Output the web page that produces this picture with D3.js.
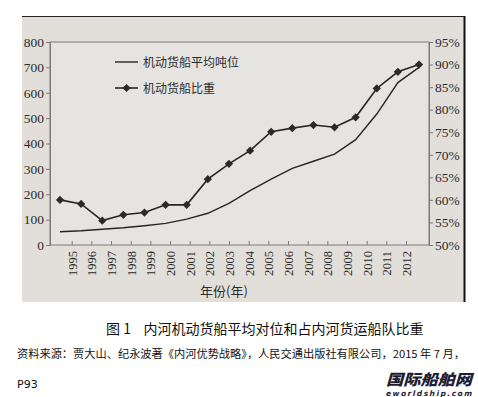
<!DOCTYPE html>
<html lang="zh">
<head>
<meta charset="UTF-8">
<title>内河机动货船平均吨位和占内河货运船队比重</title>
<script src="https://d3js.org/d3.v7.min.js"></script>
<style>
  body { margin: 0; background: #fff; }
  svg { display: block; }
  svg .axis-serif text { font-family: 'Liberation Serif', 'DejaVu Serif', serif; }
</style>
</head>
<body>
<div id="chart"></div>
<script>
// data
const years = ["1995","1996","1997","1998","1999","2000","2001","2002","2003",
               "2004","2005","2006","2007","2008","2009","2010","2011","2012"];
const avgTonnage = [52, 56, 62, 68, 76, 85, 102, 125, 164,
                    214, 260, 302, 330, 358, 415, 516, 640, 700];
const sharePct = [60.0, 59.1, 55.4, 56.7, 57.2, 58.9, 58.9, 64.6, 68.0,
                  70.9, 75.1, 75.9, 76.6, 76.1, 78.3, 84.7, 88.4, 90.0];
const leftTicks = [0, 100, 200, 300, 400, 500, 600, 700, 800];
const rightTicks = [50, 55, 60, 65, 70, 75, 80, 85, 90, 95];
const seriesNames = ["机动货船平均吨位", "机动货船比重"];

const W = 478, H = 397;
const plot = { left: 50, right: 429, top: 42, bottom: 245 };
const CJK = "'Noto Sans CJK SC', sans-serif";

const svg = d3.select("#chart").append("svg")
  .attr("width", W).attr("height", H);

// photographed page
svg.append("rect").attr("x", 22).attr("y", 16).attr("width", 442).attr("height", 286)
  .attr("fill", "#e2dfda");
svg.append("line").attr("x1", 22).attr("x2", 465).attr("y1", 16.5).attr("y2", 16.5)
  .attr("stroke", "#222").attr("stroke-width", 1);
svg.append("line").attr("x1", 464.5).attr("x2", 464.5).attr("y1", 16).attr("y2", 302)
  .attr("stroke", "#111").attr("stroke-width", 2);

// plot frame
svg.append("rect")
  .attr("x", plot.left).attr("y", plot.top)
  .attr("width", plot.right - plot.left).attr("height", plot.bottom - plot.top)
  .attr("fill", "#e6e4e0").attr("stroke", "#7a7a7a").attr("stroke-width", 1);

// scales (the printed series sit slightly wider than the tick labels)
const xData = d3.scalePoint().domain(years).range([60, 419]);
const xLabels = d3.scalePoint().domain(years).range([71.7, 406]);
const yLeft = d3.scaleLinear().domain([0, 800]).range([plot.bottom, plot.top]);
const yRight = d3.scaleLinear().domain([50, 95]).range([plot.bottom, plot.top]);

// left axis
const gl = svg.append("g").attr("class", "axis-serif")
  .attr("transform", `translate(${plot.left},0)`)
  .call(d3.axisLeft(yLeft).tickValues(leftTicks).tickSize(4).tickPadding(2))
  .attr("font-size", 13.5);
gl.select(".domain").attr("stroke", "#7a7a7a");
gl.selectAll(".tick line").attr("stroke", "#7a7a7a");
gl.selectAll("text").attr("fill", "#2b2b2b");

// right axis
const gr = svg.append("g").attr("class", "axis-serif")
  .attr("transform", `translate(${plot.right},0)`)
  .call(d3.axisRight(yRight).tickValues(rightTicks).tickSize(4).tickPadding(2)
    .tickFormat(d => d + "%"))
  .attr("font-size", 13.5);
gr.select(".domain").attr("stroke", "#7a7a7a");
gr.selectAll(".tick line").attr("stroke", "#7a7a7a");
gr.selectAll("text").attr("fill", "#2b2b2b");

// x axis: ticks pointing into the plot, labels rotated
const gx = svg.append("g").attr("class", "axis-serif")
  .attr("transform", `translate(0,${plot.bottom})`)
  .call(d3.axisBottom(xLabels).tickSize(-4).tickSizeOuter(0))
  .attr("font-size", 12.5);
gx.select(".domain").remove();
gx.selectAll(".tick line").attr("stroke", "#7a7a7a");
gx.selectAll("text")
  .attr("fill", "#2b2b2b")
  .attr("transform", "rotate(-90)")
  .attr("x", -6).attr("y", 0).attr("dy", "0.35em")
  .style("text-anchor", "end");

svg.append("text").style("font-family", CJK).attr("fill", "#2b2b2b")
  .attr("x", 224).attr("y", 296).attr("text-anchor", "middle")
  .attr("font-size", 13).text("年份(年)");

// average tonnage line
const tonLine = d3.line().x((d, i) => xData(years[i])).y(d => yLeft(d));
svg.append("path").datum(avgTonnage)
  .attr("d", tonLine).attr("fill", "none")
  .attr("stroke", "#262626").attr("stroke-width", 1.4);

// share line with diamond markers
const pctLine = d3.line().x((d, i) => xData(years[i])).y(d => yRight(d));
svg.append("path").datum(sharePct)
  .attr("d", pctLine).attr("fill", "none")
  .attr("stroke", "#262626").attr("stroke-width", 1.6);

const diamond = d3.symbol().type(d3.symbolSquare).size(34);
svg.append("g").selectAll("path").data(sharePct).join("path")
  .attr("d", diamond)
  .attr("transform", (d, i) => `translate(${xData(years[i])},${yRight(d)}) rotate(45)`)
  .attr("fill", "#2a2a2a");

// legend
const legend = svg.append("g").style("font-family", CJK).attr("font-size", 12);
legend.append("line").attr("x1", 115).attr("x2", 138).attr("y1", 62).attr("y2", 62)
  .attr("stroke", "#262626").attr("stroke-width", 1.4);
legend.append("text").attr("x", 143).attr("y", 66.5).attr("fill", "#2b2b2b")
  .text(seriesNames[0]);
legend.append("line").attr("x1", 115).attr("x2", 138).attr("y1", 88).attr("y2", 88)
  .attr("stroke", "#262626").attr("stroke-width", 1.6);
legend.append("path").attr("d", diamond)
  .attr("transform", "translate(126.5,88) rotate(45)").attr("fill", "#2a2a2a");
legend.append("text").attr("x", 143).attr("y", 92.5).attr("fill", "#2b2b2b")
  .text(seriesNames[1]);

// caption and source
svg.append("text").style("font-family", CJK)
  .attr("x", 106).attr("y", 334).attr("font-size", 14).attr("fill", "#111")
  .attr("xml:space", "preserve")
  .text("图 1    内河机动货船平均对位和占内河货运船队比重");

svg.append("text").style("font-family", CJK)
  .attr("x", 17).attr("y", 358).attr("font-size", 11).attr("fill", "#111")
  .attr("textLength", 448).attr("lengthAdjust", "spacingAndGlyphs")
  .text("资料来源：贾大山、纪永波著《内河优势战略》，人民交通出版社有限公司，2015 年 7 月，");

svg.append("text")
  .attr("x", 17).attr("y", 388).attr("font-size", 11)
  .style("font-family", "'DejaVu Sans', sans-serif").attr("fill", "#111")
  .text("P93");

// watermark
svg.append("text").style("font-family", CJK)
  .attr("x", 386).attr("y", 385).attr("font-size", 15).attr("font-weight", 900)
  .attr("fill", "#1d1d33").attr("font-style", "italic")
  .attr("textLength", 86).attr("lengthAdjust", "spacingAndGlyphs")
  .text("国际船舶网");
svg.append("text")
  .attr("x", 386).attr("y", 395.5).attr("font-size", 7.5).attr("font-weight", "bold")
  .style("font-family", "'DejaVu Sans', sans-serif").attr("font-style", "italic")
  .attr("fill", "#1d1d33")
  .attr("textLength", 86).attr("lengthAdjust", "spacing")
  .text("eworldship.com");
</script>
</body>
</html>
